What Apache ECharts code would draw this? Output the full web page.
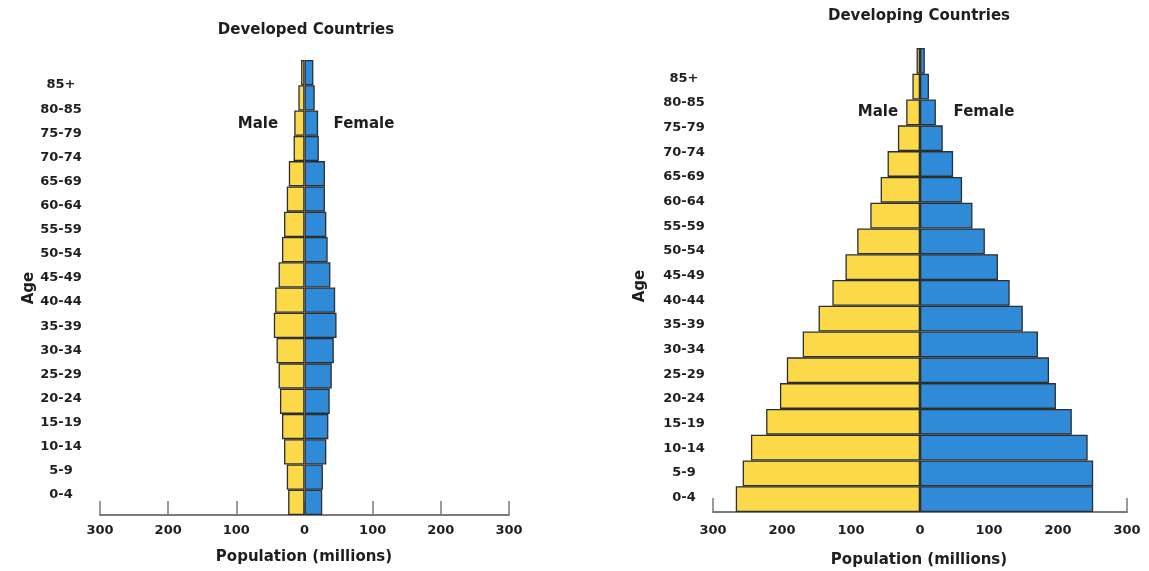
<!DOCTYPE html>
<html><head><meta charset="utf-8">
<script src="https://cdn.jsdelivr.net/npm/echarts@6/dist/echarts.min.js"></script>
<style>html,body{margin:0;padding:0;background:#fff}#c{width:1149px;height:571px}</style>
</head><body><div id="c"></div>
<script>
const ageGroups = ['0-4','5-9','10-14','15-19','20-24','25-29','30-34','35-39','40-44','45-49','50-54','55-59','60-64','65-69','70-74','75-79','80-85','85+'];
const developedMale   = [24, 26, 30, 33, 36, 38, 41, 45, 43, 38, 33, 30, 26, 23, 16, 15, 9, 5];
const developedFemale = [26, 27, 32, 35, 37, 40, 43, 47, 45, 38, 34, 32, 30, 30, 21, 20, 15, 13];
const developingMale   = [267, 257, 245, 223, 203, 193, 170, 147, 127, 108, 91, 72, 57, 47, 32, 20, 11, 5];
const developingFemale = [251, 251, 243, 220, 197, 187, 171, 149, 130, 113, 94, 76, 61, 48, 33, 23, 13, 7];
const titles = ['Developed Countries', 'Developing Countries'];
const sexLabels = ['Male', 'Female'];
const xAxisTitle = 'Population (millions)';
const yAxisTitle = 'Age';

const FONT = '"DejaVu Sans", sans-serif';
const TXT = '#1e1e1e';
const YELLOW = '#FCD948';
const BLUE = '#2F8AD8';
const BORDER = '#2e2e2e';

const chart = echarts.init(document.getElementById('c'), null, {renderer: 'canvas'});

function valueAxis(gi, margin) {
  return {
    type: 'value', gridIndex: gi, min: -300, max: 300, interval: 100,
    axisLine: {show: true, onZero: false, lineStyle: {color: '#7a7a7a', width: 2}},
    axisTick: {show: true, inside: true, length: 14, lineStyle: {color: '#7a7a7a', width: 1.5}},
    axisLabel: {formatter: v => String(Math.abs(v)), fontFamily: FONT, fontWeight: 'bold', fontSize: 13, color: TXT, margin: margin},
    splitLine: {show: false}
  };
}
function hiddenX(gi) { return {type: 'value', gridIndex: gi, show: false, min: 0, max: 1}; }
function barY(gi) { return {type: 'category', gridIndex: gi, data: ageGroups, show: false}; }
function labelY(gi) {
  return {
    type: 'category', gridIndex: gi, data: ageGroups,
    axisLine: {show: false}, axisTick: {show: false}, splitLine: {show: false},
    axisLabel: {align: 'center', margin: 0, fontFamily: FONT, fontWeight: 'bold', fontSize: 13, color: TXT}
  };
}
function bar(gi, vals, color, neg) {
  return {
    type: 'bar', xAxisIndex: gi, yAxisIndex: gi, silent: true,
    data: vals.map(v => neg ? -v : v),
    barGap: '-100%', barCategoryGap: 0,
    itemStyle: {color: color, borderColor: BORDER, borderWidth: 1.3}
  };
}
function txt(x, y, s, size, rot) {
  return {type: 'text', x: x, y: y, rotation: rot || 0, silent: true,
    style: {text: s, align: 'center', verticalAlign: 'middle', font: 'bold ' + size + 'px ' + FONT, fill: TXT}};
}

chart.setOption({
  animation: false,
  backgroundColor: '#fff',
  grid: [
    {left: 100, top: 60, width: 409, height: 455, outerBoundsMode: 'none'},
    {left: 713, top: 48, width: 414, height: 464, outerBoundsMode: 'none'},
    {left: 61, top: 73, width: 1, height: 434, outerBoundsMode: 'none'},
    {left: 684, top: 66, width: 1, height: 444, outerBoundsMode: 'none'}
  ],
  xAxis: [valueAxis(0, 9), valueAxis(1, 12), hiddenX(2), hiddenX(3)],
  yAxis: [barY(0), barY(1), labelY(2), labelY(3)],
  series: [
    bar(0, developedMale, YELLOW, true),
    bar(0, developedFemale, BLUE, false),
    bar(1, developingMale, YELLOW, true),
    bar(1, developingFemale, BLUE, false)
  ],
  graphic: [
    txt(306, 30, titles[0], 15),
    txt(919, 16, titles[1], 15),
    txt(258, 124, sexLabels[0], 15),
    txt(364, 124, sexLabels[1], 15),
    txt(878, 112, sexLabels[0], 15),
    txt(984, 112, sexLabels[1], 15),
    txt(29, 288, yAxisTitle, 15, Math.PI / 2),
    txt(640, 286, yAxisTitle, 15, Math.PI / 2),
    txt(304, 557, xAxisTitle, 15),
    txt(919, 560, xAxisTitle, 15)
  ]
});
</script></body></html>
